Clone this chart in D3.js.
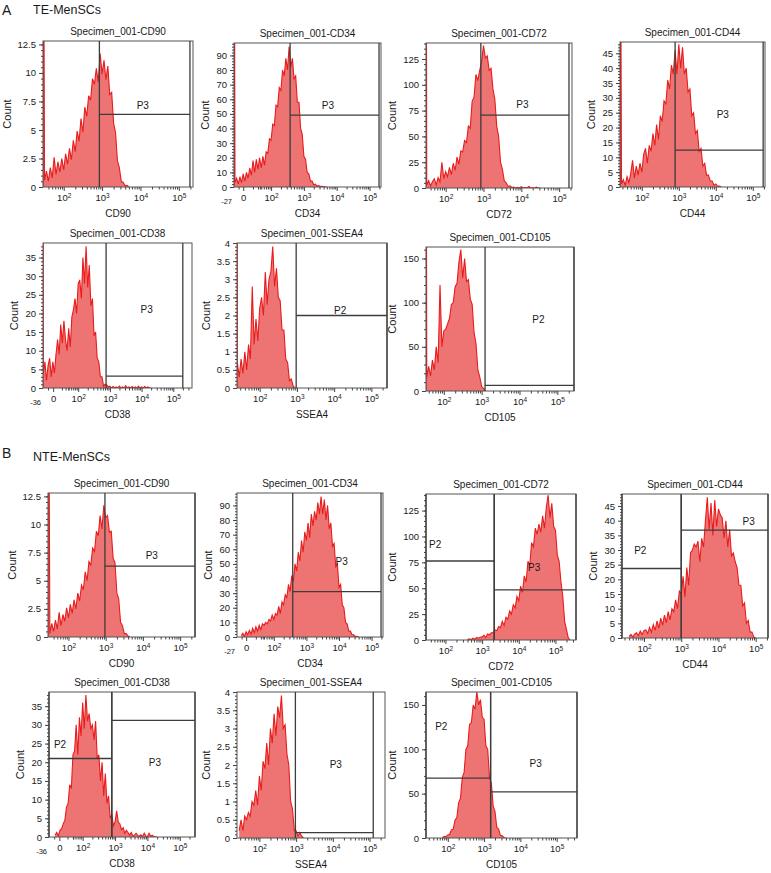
<!DOCTYPE html>
<html><head><meta charset="utf-8">
<script src="https://cdn.jsdelivr.net/npm/d3@7"></script>
<style>body{margin:0;background:#fff} svg text{font-family:"Liberation Sans",Arial,sans-serif;fill:#1a1a1a}</style>
</head><body>
<svg id="c" width="771" height="873"></svg>
<script>
// ---------------- DATA ----------------
const markers = ["CD90","CD34","CD72","CD44","CD38","SSEA4","CD105"];
const groups = ["TE-MenSCs","NTE-MenSCs"];
const binStep = 0.05;                       // histogram bin width (log10 units)
const xTickExps = [2,3,4,5];
const negLabels = {CD34:"-27", CD38:"-36"};
const yTicks = {
  CD90:[0,2.5,5,7.5,10,12.5], CD34:[0,10,20,30,40,50,60,70,80,90],
  CD72:[0,25,50,75,100,125], CD44:[0,5,10,15,20,25,30,35,40,45],
  CD38:[0,5,10,15,20,25,30,35], SSEA4:[0,0.5,1,1.5,2,2.5,3,3.5,4],
  CD105:[0,50,100,150]
};
const teYMax  = [12.8, 98.5, 140.5, 48.8, 38.9, 4.0, 163];
const nteYMax = [12.8, 98.5, 141, 49.1, 38.8, 4.0, 164.6];
// first bin (log10 of fluorescence) of each histogram
const teStart  = [1.50, 0.90, 1.50, 1.45, 0.90, 1.40, 1.55];
const nteStart = [1.50, 1.00, 2.60, 1.60, 1.15, 1.45, 1.85];
// pile-up of events at the axis minimum
const teEdge  = [40, 300, 400, 150, 120, 12, 500];
const nteEdge = [40, 0, 0, 0, 0, 0, 0];

const te_CD90 = [0.6,1.4,0.5,1.7,0.8,2.6,1.1,2.2,1.3,2.5,1.5,2.9,2.0,3.4,2.4,4.1,3.1,4.9,4.0,6.0,4.8,7.0,6.2,8.0,7.6,9.5,9.0,10.4,9.2,11.7,9.9,11.1,9.4,10.6,8.1,8.3,5.6,4.8,2.3,1.7,0.5,0.4,0.1,0.15,0];
const te_CD34 = [3,6,2,7,3,9,4,10,6,13,8,18,10,19,12,20,13,21,15,24,23,33,32,43,42,56,55,68,66,80,76,88,80,96,82,88,74,76,58,58,40,36,21,19,10,9,4,4,1.5,2,0.6,1,0.3,0.5,0.1,0.2,0];
const te_CD72 = [3,7,2,6,9,3,10,6,25,9,16,11,20,13,24,17,30,23,36,35,46,44,60,58,84,88,110,104,114,122,138,126,128,114,116,96,86,60,50,25,18,7,5,1.5,2,0.5,1,0,0.6,0,1.2,0,0.4,0,1.5,0,0.3,0,0.8,0,0];
const te_CD44 = [1,2.5,0.5,3.5,1.5,4.5,9,3,7,4,8,5,11,13,8,14,12,18,14,21,16,24,22,29,28,36,33,41,38,46,38,48,40,47,38,40,32,33,24,25,18,19,12,13,7,8,4,4,2,2,0.6,1,0.2,0.3,0];
const te_CD38 = [4,7,2,6,8,3,7,4,9,13,9,17,12,18,13,10,16,11,19,21,24,20,28,29,24,35,28,38,27,33,22,24,14,15,8,7,3,3,0.5,1,0.8,0.3,0.5,0,0.4,0,0.3,0,0.5,0,0.3,0,0.6,0,0.3,0,0.4,0,0.3,0,0.5,0,0.3,0,0.4,0,0.3,0,0];
const te_SSEA4 = [0.7,0.3,0.8,0.4,1.0,0.5,1.2,0.8,2.8,1.2,1.9,1.3,2.2,2.5,2.0,3.2,2.3,3.0,3.2,3.9,2.8,3.3,2.5,2.4,1.6,1.6,0.8,0.7,0.2,0.25,0.05,0];
const te_CD105 = [15,28,17,35,24,50,32,120,50,68,70,76,82,98,100,118,122,146,160,128,150,124,126,104,98,66,54,24,16,5,3,0];

const nte_CD90 = [0.3,1.2,0.5,1.5,0.7,2.2,1.0,2.0,1.4,2.6,1.7,2.9,2.1,3.3,2.5,3.9,3.2,4.6,4.2,5.8,5.0,6.7,6.4,7.9,7.6,9.4,9.0,10.8,9.6,11.7,10.6,10.8,9.3,9.4,7.0,6.6,3.9,3.4,1.3,1.0,0.3,0.3,0.1,0];
const nte_CD34 = [1,2.5,0.5,3.5,1.5,4.5,2,6,3,7,4,8,5,9,8,10,9,12,11,15,12,16,15,21,16,24,22,29,27,36,31,42,38,50,45,58,52,66,58,72,66,78,68,84,76,86,80,92,84,96,84,94,80,90,74,78,62,64,48,50,34,36,22,20,10,9,4,4,1.5,1.5,0.3,0.4,0];
const nte_CD72 = [0.5,1.2,0.3,1.8,0.8,2.4,2.0,2.6,3.0,4.6,2.5,5.8,5,7,7,10,9,13,12,18,14,22,20,28,25,34,31,42,38,52,46,62,56,76,72,94,90,108,102,112,104,120,108,128,140,118,132,110,106,82,76,56,42,18,10,2,0];
const nte_CD44 = [0.5,1.2,0.3,1.3,1.8,0.8,2.4,1.2,2.6,2.8,1.6,3.6,2.0,4.6,2.6,5.8,3.4,6.8,4.4,7.8,5.2,9,6.2,10,9,13,10,16,15,21,14,24,18,29,30,32,31,33,26,34,31,40,48,37,46,35,47,38,44,42,41,34,40,31,37,28,29,26,24,18,18,11,12,5,6,2,2,0.3,0];
const nte_CD38 = [0.5,1.2,0.3,1.8,2.2,3.5,4.5,8,9,14,13,22,23,30,22,32,27,36,29,38,31,33,29,30,26,31,21,22,15,20,11,17,9,11,5,6,3,4,7,4,3.5,2,2.5,1,1.8,1.2,0.5,1.2,0.3,0.5,1,0.4,0.2,0.6,0.1,1,0.3,0.1,1,0.2,0.5,0.1,0,0];
const nte_SSEA4 = [0.2,0.5,0.2,0.6,0.5,0.7,0.6,1.0,0.9,1.3,0.9,1.7,1.3,2.1,1.9,2.6,2.0,3.0,2.6,3.4,2.8,3.6,3.3,3.9,3.0,3.1,2.3,2.0,1.0,0.8,0.2,0.2,0.05,0.15,0.05,0];
const nte_CD105 = [0.5,1.5,1.5,3.5,4,9,10,20,23,40,45,68,74,100,104,128,130,150,145,165,150,156,136,134,104,100,68,62,36,30,12,10,3,2.5,0.5,0];

// interval gates: [from, to (log10), level (count), name, label x (log10), label y (count)]
const teGates = [
  [[2.93,5.29,6.37,"P3",4.06,7.1]],
  [[2.58,5.29,49.2,"P3",3.73,55.4]],
  [[2.93,5.26,70.6,"P3",4.03,80.3]],
  [[2.90,5.28,12.4,"P3",4.19,24.2]],
  [[2.88,5.30,3.2,"P3",4.16,20.9]],
  [[2.98,5.42,2.0,"P2",4.16,2.12]],
  [[3.09,5.44,6.4,"P2",4.50,80.2]]
];
const nteGates = [
  [[2.98,5.40,6.3,"P3",4.24,7.2]],
  [[2.58,5.29,31,"P3",4.08,51]],
  [[1.47,3.33,76.3,"P2",1.72,91],[3.33,5.56,48.4,"P3",4.42,69.5]],
  [[1.41,3.00,23.7,"P2",1.90,29.5],[3.00,5.33,36.8,"P3",4.81,39.3]],
  [[0.96,2.90,21,"P2",1.30,24.6],[2.90,5.47,31.2,"P3",4.23,19.7]],
  [[2.98,5.10,0.15,"P3",4.08,2.0]],
  [[1.40,3.18,67.5,"P2",1.82,125],[3.18,5.56,52,"P3",4.42,82.5]]
];

// ---------------- LAYOUT ----------------
// frame [left, top, right, bottom], x domain [lo, hi] in log10 units, position of "0" tick
const teBox = [[43,41,193,187,1.46,5.37],[234,43,381,187,0.87,5.35],[426,43,572,188,1.48,5.34],[620,42,765,187,1.41,5.33],[43,243,192,388,0.89,5.59],[237,243,387,388,1.39,5.42],[426,247,574,391,1.53,5.44]];
const nteBox = [[48,493,195,637,1.45,5.40],[237,493,383,637,0.87,5.35],[426,494,576,640,1.47,5.56],[622,494,768,638,1.41,5.33],[49,692,195,837,0.96,5.47],[237,692,385,838,1.39,5.42],[426,692,577,838,1.40,5.56]];
const teZero = [null,1.15,null,null,1.21,null,null];
const nteZero = [null,1.15,null,null,1.28,null,null];

const teData = [te_CD90,te_CD34,te_CD72,te_CD44,te_CD38,te_SSEA4,te_CD105];
const nteData = [nte_CD90,nte_CD34,nte_CD72,nte_CD44,nte_CD38,nte_SSEA4,nte_CD105];

const svg = d3.select("#c");
svg.append("text").attr("x",2).attr("y",15).attr("font-size",14).text("A");
svg.append("text").attr("x",33).attr("y",13.5).attr("font-size",12.5).text(groups[0]);
svg.append("text").attr("x",2).attr("y",458).attr("font-size",14).text("B");
svg.append("text").attr("x",33).attr("y",461).attr("font-size",12.5).text(groups[1]);

let clipN = 0;
function drawPanel(marker, box, yMax, start, edge, counts, gates, zeroPos) {
  const [L,T,R,B,lo,hi] = box;
  const g = svg.append("g");
  const x = d3.scaleLinear().domain([lo,hi]).range([L,R]);
  const y = d3.scaleLinear().domain([0,yMax]).range([B,T]);
  const id = "clip" + (clipN++);
  svg.append("clipPath").attr("id",id).append("rect").attr("x",L).attr("y",T).attr("width",R-L).attr("height",B-T);

  const pts = [];
  if (edge > 0) { pts.push({d:lo,c:0},{d:lo,c:edge}); }
  counts.forEach((c,i) => pts.push({d:start + i*binStep, c}));
  const hg = g.append("g").attr("clip-path",`url(#${id})`);
  hg.append("path").datum(pts).attr("fill","#EE7474")
    .attr("d", d3.area().x(d=>x(d.d)).y0(y(0)).y1(d=>y(d.c)));
  hg.append("path").datum(pts).attr("fill","none").attr("stroke","#E81C1C").attr("stroke-width",1.1)
    .attr("stroke-linejoin","miter")
    .attr("d", d3.line().x(d=>x(d.d)).y(d=>y(d.c)));

  // frame
  g.append("rect").attr("x",L).attr("y",T).attr("width",R-L).attr("height",B-T)
    .attr("fill","none").attr("stroke","#555").attr("stroke-width",1);

  // gates
  gates.forEach(([a,b,lev,name,lx,ly]) => {
    const gg = g.append("g").attr("stroke","#3c3c3c").attr("stroke-width",1.3);
    gg.append("line").attr("x1",x(a)).attr("x2",x(a)).attr("y1",y(0)).attr("y2",T);
    gg.append("line").attr("x1",x(b)).attr("x2",x(b)).attr("y1",y(0)).attr("y2",T);
    gg.append("line").attr("x1",x(a)).attr("x2",x(b)).attr("y1",y(lev)).attr("y2",y(lev));
    g.append("text").attr("x",x(lx)).attr("y",y(ly)).attr("text-anchor","middle")
      .attr("dominant-baseline","middle").attr("font-size",10).text(name);
  });

  // x axis
  const majors = xTickExps.filter(e => e > lo && e < hi);
  const majVals = zeroPos != null ? [zeroPos, ...majors] : majors;
  const minors = [];
  for (let k = 0; k <= 5; k++) for (let m = 2; m <= 9; m++) {
    const v = k + Math.log10(m);
    if (v > lo + 0.03 && v < hi - 0.01 && (zeroPos == null || v > zeroPos + 0.35)) minors.push(v);
  }
  if (zeroPos != null) { minors.push(lo + (zeroPos-lo)*0.5, zeroPos + (2-zeroPos)*0.35, zeroPos + (2-zeroPos)*0.6); }
  const xa = g.append("g").attr("transform",`translate(0,${B})`)
    .call(d3.axisBottom(x).tickValues(majVals).tickSize(4).tickPadding(3)
      .tickFormat(d => d === zeroPos ? "0" : "10"));
  xa.select(".domain").remove();
  xa.selectAll(".tick line").attr("stroke","#444");
  xa.selectAll(".tick text").attr("font-size",9.5).attr("fill","#1a1a1a").each(function(d){
    if (d !== zeroPos) {
      d3.select(this).append("tspan").attr("dy","-0.45em").attr("font-size","6.5px").text(d);
    }
  });
  const xm = g.append("g").attr("transform",`translate(0,${B})`)
    .call(d3.axisBottom(x).tickValues(minors).tickSize(2.5).tickFormat(""));
  xm.select(".domain").remove();
  xm.selectAll(".tick line").attr("stroke","#444");
  if (negLabels[marker]) {
    g.append("text").attr("x",L-2).attr("y",B+17).attr("text-anchor","end").attr("font-size",7.5).text(negLabels[marker]);
  }

  // y axis
  const yt = yTicks[marker];
  const step = yt[1]-yt[0];
  const yMinor = [];
  for (let v = 0; v <= yMax; v += step/5) yMinor.push(+v.toFixed(4));
  const ya = g.append("g").attr("transform",`translate(${L},0)`)
    .call(d3.axisLeft(y).tickValues(yt).tickSize(4).tickPadding(3).tickFormat(d=>String(d)));
  ya.select(".domain").remove();
  ya.selectAll(".tick line").attr("stroke","#444");
  ya.selectAll(".tick text").attr("font-size",9.5).attr("fill","#1a1a1a");
  const ym = g.append("g").attr("transform",`translate(${L},0)`)
    .call(d3.axisLeft(y).tickValues(yMinor).tickSize(2).tickFormat(""));
  ym.select(".domain").remove();
  ym.selectAll(".tick line").attr("stroke","#444");
  const bb = ya.node().getBBox();

  g.append("text").attr("transform",`translate(${L+bb.x-7},${(T+B)/2}) rotate(-90)`)
    .attr("text-anchor","middle").attr("font-size",11).text("Count");
  g.append("text").attr("x",(L+R)/2).attr("y",T-6).attr("text-anchor","middle").attr("font-size",10)
    .text("Specimen_001-" + marker);
  g.append("text").attr("x",(L+R)/2).attr("y",B+30).attr("text-anchor","middle").attr("font-size",10)
    .text(marker);
}

markers.forEach((m,i) => drawPanel(m, teBox[i], teYMax[i], teStart[i], teEdge[i], teData[i], teGates[i], teZero[i]));
markers.forEach((m,i) => drawPanel(m, nteBox[i], nteYMax[i], nteStart[i], nteEdge[i], nteData[i], nteGates[i], nteZero[i]));
</script>
</body></html>
